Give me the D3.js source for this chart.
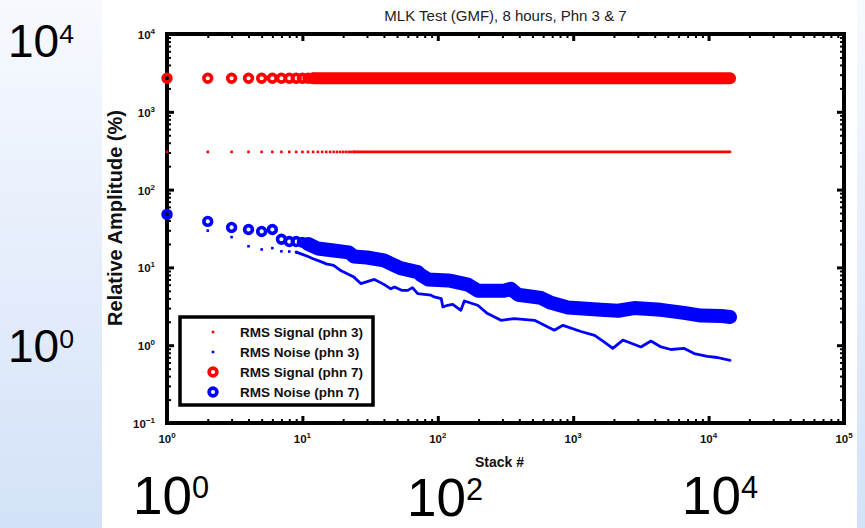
<!DOCTYPE html>
<html><head><meta charset="utf-8">
<script src="https://cdn.jsdelivr.net/npm/d3@7"></script>
<style>
html,body{margin:0;padding:0;background:#fff;}
svg{display:block;}
text{font-family:Arial,"Liberation Sans",Helvetica,sans-serif;}
</style></head><body>
<svg id="c" width="865" height="528"></svg>
<script>
// ---------- data ----------
const title = "MLK Test (GMF), 8 hours, Phn 3 & 7";
const xLabel = "Stack #";
const yLabel = "Relative Amplitude (%)";
const xTickValues = [1, 10, 100, 1000, 10000, 100000];
const xTickExps = ["0", "1", "2", "3", "4", "5"];
const yTickValues = [0.1, 1, 10, 100, 1000, 10000];
const yTickExps = ["\u22121", "0", "1", "2", "3", "4"];
const legendLabels = ["RMS Signal (phn 3)", "RMS Noise (phn 3)", "RMS Signal (phn 7)", "RMS Noise (phn 7)"];
const slideLeftExps = ["4", "0"];
const slideBottomExps = ["0", "2", "4"];

// [stack #, relative amplitude %]
const signalPhn3 = [[1,305],[2,305],[3,305],[4,305],[5,305],[6,305],[7,305],[8,305],[9,305],[10,305],
  [11,305],[12,305],[13,305],[14,305],[15,305],[16,305],[17,305],[18,305],[19,305],[20,305],
  [21,305],[22,305],[23,305],[24,305],[14400,305]];
const noisePhn3 = [[1,44],[2,29.7],[3,24.5],[4,18.7],[5,17],[6,17.7],[7,16.1],[8,16],[9,15.7],[10,14.7],
  [11,13.8],[12,12.9],[14,11.7],[15,11.1],[17,10.6],[19,9.2],[22,8.1],[24,7.5],[27,6.2],[34,7.0],
  [40,6.05],[45,5.3],[48,5.6],[54,5.07],[60,5.07],[65,5.5],[71,4.6],[89,4.4],[94,4.17],[106,3.97],
  [109,3.1],[118,3.26],[129,3.35],[148,2.81],[157,3.7],[197,3.26],[233,2.55],[293,2.09],[367,2.2],
  [518,2.09],[725,1.56],[840,1.8],[1140,1.5],[1440,1.34],[1690,1.1],[1960,0.91],[2330,1.16],[2540,1.1],
  [3160,0.95],[3750,1.13],[4450,0.95],[5270,0.88],[6620,0.91],[7830,0.78],[9810,0.72],[11600,0.695],[14400,0.64]];
const signalPhn7 = [[1,2700],[2,2700],[3,2700],[4,2700],[5,2700],[6,2700],[7,2700],[8,2700],[9,2700],
  [10,2700],[11,2700],[12,2700],[14400,2700]];
const noisePhn7 = [[1,48],[2,39],[3,32.6],[4,30.7],[5,29],[6,30.7],[7,23],[8,21.5],[9,21.5],[10,21],
  [11,20],[13,17.5],[17,16.5],[22,15.6],[24,13.8],[30,13.4],[40,12.3],[47,10.8],[53,9.8],[71,8.7],
  [75,8.0],[85,7.0],[119,6.8],[125,6.7],[167,6.0],[198,5.0],[308,5.0],[347,5.3],[391,4.45],[578,4.05],
  [686,3.5],[915,3.05],[1604,2.85],[2143,2.77],[2813,3.0],[4446,2.85],[6580,2.6],[8790,2.4],[12360,2.38],[14400,2.3]];

// ---------- drawing ----------
const W = 865, H = 528;
const svg = d3.select("#c");
const defs = svg.append("defs");
const grad = defs.append("linearGradient").attr("id", "bg").attr("x1", 0).attr("y1", 0).attr("x2", 0).attr("y2", 1);
grad.append("stop").attr("offset", "0%").attr("stop-color", "#f7f9fe");
grad.append("stop").attr("offset", "100%").attr("stop-color", "#d3e2f8");
svg.append("rect").attr("width", W).attr("height", H).attr("fill", "url(#bg)");
svg.append("rect").attr("x", 102).attr("y", 0).attr("width", 755).attr("height", H).attr("fill", "#fff");

const L = 167, R = 844, T = 34, B = 423;
const x = d3.scaleLog().domain([1, 1e5]).range([L, R]);
const y = d3.scaleLog().domain([0.1, 1e4]).range([B, T]);
const isMajor = v => Math.abs(Math.log10(v) - Math.round(Math.log10(v))) < 1e-9;
const xMinor = x.ticks().filter(v => !isMajor(v));
const yMinor = y.ticks().filter(v => !isMajor(v));

// title
svg.append("text").attr("x", (L + R) / 2).attr("y", 21).attr("text-anchor", "middle")
  .attr("font-size", 15).attr("fill", "#222").text(title);

// axes ticks (inward), drawn with d3 axes
function tickAxis(gen, tx, ty, vals, size, sw) {
  const g = svg.append("g").attr("transform", `translate(${tx},${ty})`)
    .call(gen.tickValues(vals).tickSize(size).tickSizeOuter(0).tickFormat(""));
  g.select(".domain").remove();
  g.selectAll(".tick line").attr("stroke", "#000").attr("stroke-width", sw);
}
tickAxis(d3.axisBottom(x), 0, B, xMinor, -4, 2);
tickAxis(d3.axisBottom(x), 0, B, xTickValues, -7, 3);
tickAxis(d3.axisTop(x), 0, T, xMinor, -4, 2);
tickAxis(d3.axisTop(x), 0, T, xTickValues, -7, 3);
tickAxis(d3.axisLeft(y), L, 0, yMinor, -4, 2);
tickAxis(d3.axisLeft(y), L, 0, yTickValues, -7, 3);
tickAxis(d3.axisRight(y), R, 0, yMinor, -4, 2);
tickAxis(d3.axisRight(y), R, 0, yTickValues, -7, 3);

svg.append("rect").attr("x", L).attr("y", T).attr("width", R - L).attr("height", B - T)
  .attr("fill", "none").attr("stroke", "#000").attr("stroke-width", 4);

// tick labels
xTickValues.forEach((v, i) => {
  const t = svg.append("text").attr("x", x(v)).attr("y", 443).attr("text-anchor", "middle")
    .attr("font-weight", "bold").attr("font-size", 11.5).attr("fill", "#111");
  t.append("tspan").text("10");
  t.append("tspan").attr("dy", -5).attr("font-size", 8).text(xTickExps[i]);
});
yTickValues.forEach((v, i) => {
  const t = svg.append("text").attr("x", 155).attr("y", y(v) + 5).attr("text-anchor", "end")
    .attr("font-weight", "bold").attr("font-size", 11.5).attr("fill", "#111");
  t.append("tspan").text("10");
  t.append("tspan").attr("dy", -5).attr("font-size", 8).text(yTickExps[i]);
});

// axis labels
svg.append("text").attr("x", (L + R) / 2 - 6).attr("y", 467).attr("text-anchor", "middle")
  .attr("font-weight", "bold").attr("font-size", 14).attr("fill", "#111").text(xLabel);
svg.append("text").attr("transform", `translate(122,218) rotate(-90)`).attr("text-anchor", "middle")
  .attr("font-weight", "bold").attr("font-size", 20).attr("fill", "#111").text(yLabel);

// series
const RED = "#ff0000", BLUE = "#0000ff";
const line = d3.line().x(d => x(d[0])).y(d => y(d[1]));
const plot = svg.append("g");
function dots(data, color, maxStack) {
  plot.append("g").selectAll("rect").data(data.filter(d => d[0] <= maxStack)).join("rect")
    .attr("x", d => x(d[0]) - 1.3).attr("y", d => y(d[1]) - 1.3)
    .attr("width", 2.6).attr("height", 2.6).attr("fill", color);
}
function rings(data, color, maxStack) {
  plot.append("g").selectAll("circle").data(data.filter(d => d[0] <= maxStack)).join("circle")
    .attr("cx", d => x(d[0])).attr("cy", d => y(d[1])).attr("r", 3.9)
    .attr("fill", "none").attr("stroke", color).attr("stroke-width", 3.6);
}
function band(data, color, fromStack, width) {
  plot.append("path").datum(data.filter(d => d[0] >= fromStack)).attr("d", line)
    .attr("fill", "none").attr("stroke", color).attr("stroke-width", width)
    .attr("stroke-linecap", "round").attr("stroke-linejoin", "round");
}
dots(signalPhn3, RED, 24);
band(signalPhn3, RED, 24, 2.7);
dots(noisePhn3, BLUE, 9);
band(noisePhn3, BLUE, 9, 2.8);
rings(signalPhn7, RED, 12);
band(signalPhn7, RED, 12, 12);
rings(noisePhn7, BLUE, 11);
band(noisePhn7, BLUE, 11, 14);

// legend
const lg = svg.append("g");
lg.append("rect").attr("x", 180).attr("y", 317).attr("width", 193).attr("height", 88)
  .attr("fill", "#fff").attr("stroke", "#000").attr("stroke-width", 3.5);
const legendStyle = [
  {color: RED, kind: "dot"}, {color: BLUE, kind: "dot"},
  {color: RED, kind: "ring"}, {color: BLUE, kind: "ring"}];
legendLabels.forEach((lab, i) => {
  const cy = 332 + i * 20;
  const st = legendStyle[i];
  if (st.kind === "dot") {
    lg.append("rect").attr("x", 213 - 1.3).attr("y", cy - 1.3).attr("width", 2.6).attr("height", 2.6).attr("fill", st.color);
  } else {
    lg.append("circle").attr("cx", 213).attr("cy", cy).attr("r", 3.9).attr("fill", "none")
      .attr("stroke", st.color).attr("stroke-width", 3.6);
  }
  lg.append("text").attr("x", 240).attr("y", cy + 5).attr("font-weight", "bold")
    .attr("font-size", 13.5).attr("fill", "#111").text(lab);
});

// slide annotations (large labels)
function bigLabel(tx, ty, exp, size) {
  const t = svg.append("text").attr("x", tx).attr("y", ty).attr("font-size", size).attr("fill", "#000");
  t.append("tspan").text("10");
  t.append("tspan").attr("dy", -size * 0.3).attr("font-size", size * 0.58).text(exp);
}
bigLabel(8, 57, slideLeftExps[0], 46);
bigLabel(8, 362, slideLeftExps[1], 46);
bigLabel(133, 514, slideBottomExps[0], 53);
bigLabel(407, 516, slideBottomExps[1], 53);
bigLabel(682, 514, slideBottomExps[2], 53);
</script>
</body></html>
